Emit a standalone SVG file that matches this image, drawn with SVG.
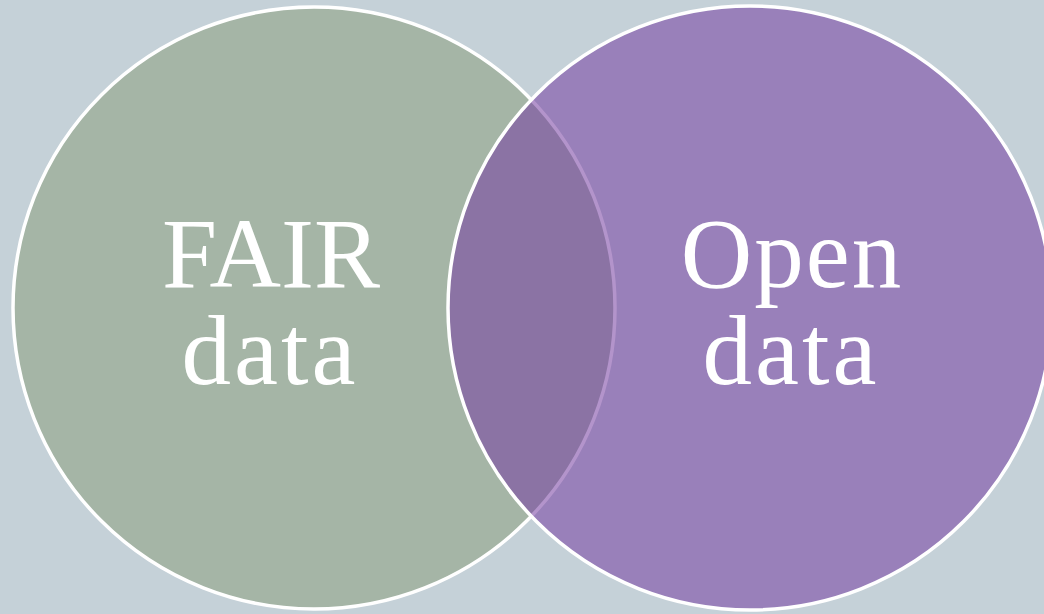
<svg xmlns="http://www.w3.org/2000/svg" width="1044" height="614" viewBox="0 0 1044 614">
<style>
.lbl{font-family:"Liberation Serif","Times New Roman",serif;font-size:99px;fill:#ffffff;text-anchor:middle}
.ring{stroke:#ffffff;stroke-width:3.5}
</style>
<rect width="1044" height="614" fill="#C5D1D8"/>
<g id="fair">
<circle class="ring" cx="314" cy="308" r="301" fill="#A5B5A6"/>
</g>
<g id="open">
<circle class="ring" cx="750" cy="308" r="302" fill="#7741A3" fill-opacity="0.56"/>
</g>
<g id="connectors"></g>
<g id="labels">
<text class="lbl"><tspan x="271" y="287">FAIR</tspan><tspan x="270" y="384" letter-spacing="3">data</tspan></text>
<text class="lbl"><tspan x="792" y="287" letter-spacing="2">Open</tspan><tspan x="791" y="384" letter-spacing="3">data</tspan></text>
</g>
</svg>
